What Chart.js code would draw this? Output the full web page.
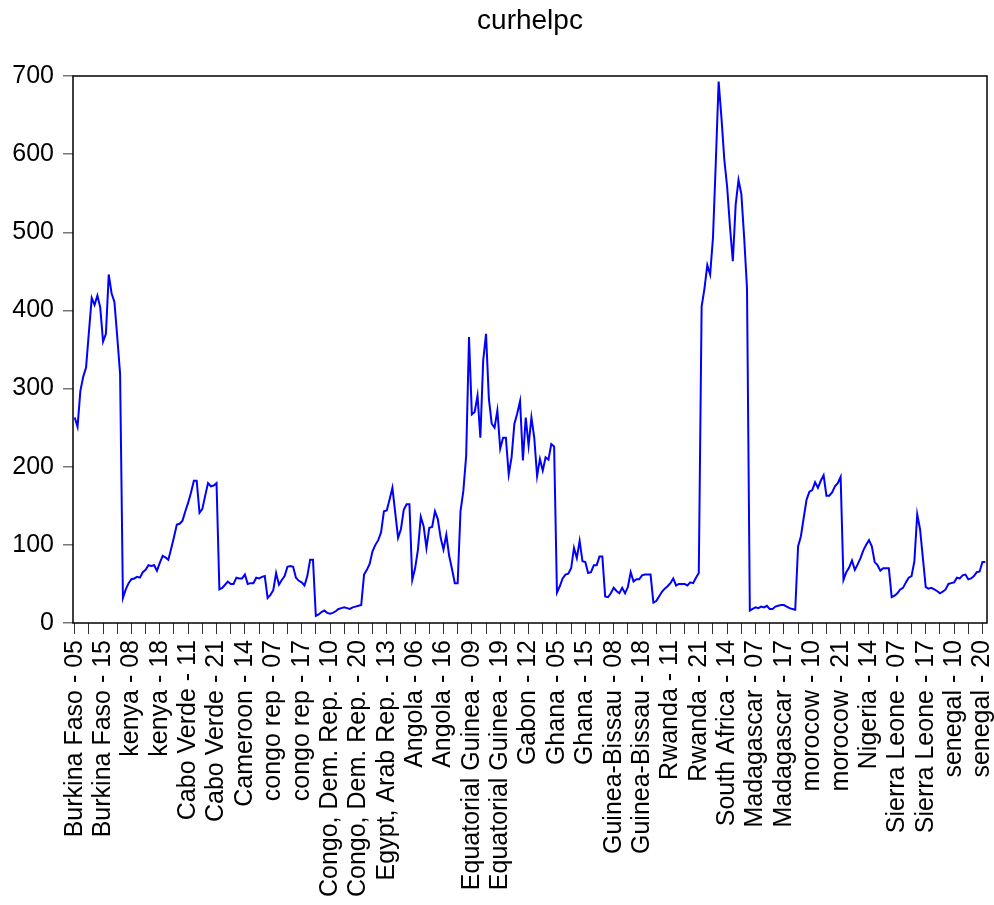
<!DOCTYPE html>
<html>
<head>
<meta charset="utf-8">
<script src="https://cdn.jsdelivr.net/npm/chart.js@4"></script>
<style>
  body { margin: 0; background: #fff; }
  #wrap { width: 994px; height: 905px; }
</style>
</head>
<body>
<div id="wrap"><canvas id="grafico" width="994" height="905"></canvas></div>
<script>
/* dados */

const titulo = "curhelpc";

// one label every 10 observations
const tickLabels = [
  "Burkina Faso - 05", "Burkina Faso - 15", "kenya - 08", "kenya - 18",
  "Cabo Verde - 11", "Cabo Verde - 21", "Cameroon - 14", "congo rep - 07",
  "congo rep - 17", "Congo, Dem. Rep. - 10", "Congo, Dem. Rep. - 20", "Egypt, Arab Rep. - 13",
  "Angola - 06", "Angola - 16", "Equatorial Guinea - 09", "Equatorial Guinea - 19",
  "Gabon - 12", "Ghana - 05", "Ghana - 15", "Guinea-Bissau - 08",
  "Guinea-Bissau - 18", "Rwanda - 11", "Rwanda - 21", "South Africa - 14",
  "Madagascar - 07", "Madagascar - 17", "morocow - 10", "morocow - 21",
  "Nigeria - 14", "Sierra Leone - 07", "Sierra Leone - 17", "senegal - 10",
  "senegal - 20"
];

const yTicks = [0, 100, 200, 300, 400, 500, 600, 700];

// curhelpc, one value per observation (country - year)
const curhelpc = [
  // Burkina Faso
  263, 251, 297, 315, 327, 372, 416, 407, 419, 404, 360, 370, 446, 422, 411, 366, 319,
  // kenya
  32, 43, 51, 56, 57, 59, 58, 65, 68, 74, 73, 74, 67, 77, 86, 84, 81,
  // Cabo Verde
  95, 110, 126, 127, 131, 143, 154, 167, 182, 182, 141, 146, 163, 179, 175, 176, 179,
  // Cameroon
  43, 45, 49, 53, 50, 50, 58, 57, 57, 62, 50, 51, 51, 58, 57, 59, 60,
  // congo rep
  32, 36, 42, 64, 49, 55, 60, 72, 73, 72, 58, 54, 52, 48, 60, 81, 81,
  // Congo, Dem. Rep.
  9, 11, 14, 16, 13, 12, 13, 15, 18, 19, 20, 19, 18, 20, 21, 22, 23,
  // Egypt, Arab Rep.
  62, 68, 76, 92, 100, 106, 116, 143, 144, 158, 173, 141, 109, 120, 145, 152, 152,
  // Angola
  55, 70, 94, 136, 124, 96, 122, 123, 143, 133, 109, 94, 113, 86, 69, 51, 51,
  // Equatorial Guinea
  143, 169, 214, 366, 267, 270, 291, 237, 336, 370, 287, 255, 250, 272, 223, 237, 237,
  // Gabon
  190, 212, 255, 268, 284, 208, 263, 227, 263, 237, 188, 210, 195, 212, 209, 229, 226,
  // Ghana
  39, 47, 57, 62, 63, 70, 96, 83, 105, 79, 78, 64, 65, 74, 74, 85, 85,
  // Guinea-Bissau
  34, 33, 38, 45, 41, 38, 45, 38, 46, 65, 53, 56, 56, 61, 62, 62, 62,
  // Rwanda
  26, 28, 34, 40, 44, 47, 51, 57, 48, 50, 50, 50, 48, 52, 51, 58, 64,
  // South Africa
  405, 428, 458, 446, 493, 590, 693, 646, 593, 558, 507, 463, 535, 567, 549, 493, 428,
  // Madagascar
  16, 18, 20, 19, 21, 20, 22, 18, 18, 21, 22, 23, 23, 21, 19, 18, 17,
  // morocow
  98, 111, 135, 158, 168, 170, 180, 173, 182, 189, 163, 163, 167, 175, 179, 187,
  // Nigeria
  55, 65, 71, 80, 68, 75, 83, 93, 100, 106, 98, 78, 74, 67, 70, 70, 70,
  // Sierra Leone
  33, 35, 38, 43, 45, 52, 58, 60, 79, 139, 120, 83, 46, 44, 45, 43, 41,
  // senegal
  38, 40, 43, 50, 51, 52, 58, 57, 61, 62, 56, 57, 60, 65, 66, 78, 78
];

/* grafico */

const fonte = "'Liberation Sans', Arial, sans-serif";

// moldura preta a volta da area do grafico + titulo
const moldura = {
  id: "moldura",
  afterDraw(chart) {
    const { ctx, chartArea } = chart;
    ctx.save();
    ctx.strokeStyle = "#000";
    ctx.lineWidth = 1.5;
    ctx.strokeRect(chartArea.left, chartArea.top,
      chartArea.right - chartArea.left, chartArea.bottom - chartArea.top);
    ctx.fillStyle = "#000";
    ctx.font = "28px " + fonte;
    ctx.textAlign = "center";
    ctx.textBaseline = "middle";
    ctx.fillText(titulo, (chartArea.left + chartArea.right) / 2, 21);
    ctx.restore();
  }
};

const ctx = document.getElementById("grafico").getContext("2d");
new Chart(ctx, {
  type: "line",
  data: {
    datasets: [{
      label: titulo,
      data: curhelpc.map((v, i) => ({ x: i, y: v })),
      borderColor: "#0000ff",
      borderWidth: 2,
      pointRadius: 0,
      tension: 0,
      fill: false
    }]
  },
  options: {
    responsive: false,
    animation: false,
    devicePixelRatio: 1,
    layout: { padding: { top: 76, right: 7, bottom: 0, left: 0 } },
    plugins: {
      legend: { display: false },
      tooltip: { enabled: false }
    },
    scales: {
      x: {
        type: "linear",
        min: -0.6,
        max: 321.6,
        afterFit(scale) {
          scale.height = 282;
          scale.paddingLeft = 0;
          scale.paddingRight = 0;
        },
        border: { display: false },
        grid: { drawOnChartArea: false, drawTicks: true, tickLength: 11, color: "#333", lineWidth: 1 },
        ticks: {
          stepSize: 5,
          includeBounds: false,
          autoSkip: false,
          minRotation: 90,
          maxRotation: 90,
          padding: 6,
          color: "#000",
          font: { family: fonte, size: 25 },
          callback: (v) => (v % 10 === 0 && tickLabels[v / 10] !== undefined) ? tickLabels[v / 10] : ""
        }
      },
      y: {
        min: yTicks[0],
        max: yTicks[yTicks.length - 1],
        afterFit(scale) {
          scale.width = 73;
        },
        afterBuildTicks(scale) {
          scale.ticks = yTicks.map(v => ({ value: v }));
        },
        border: { display: false },
        grid: { drawOnChartArea: false, drawTicks: true, tickLength: 10, color: "#777", lineWidth: 1.5 },
        ticks: {
          padding: 9,
          color: "#000",
          font: { family: fonte, size: 25 }
        }
      }
    }
  },
  plugins: [moldura]
});
</script>
</body>
</html>
